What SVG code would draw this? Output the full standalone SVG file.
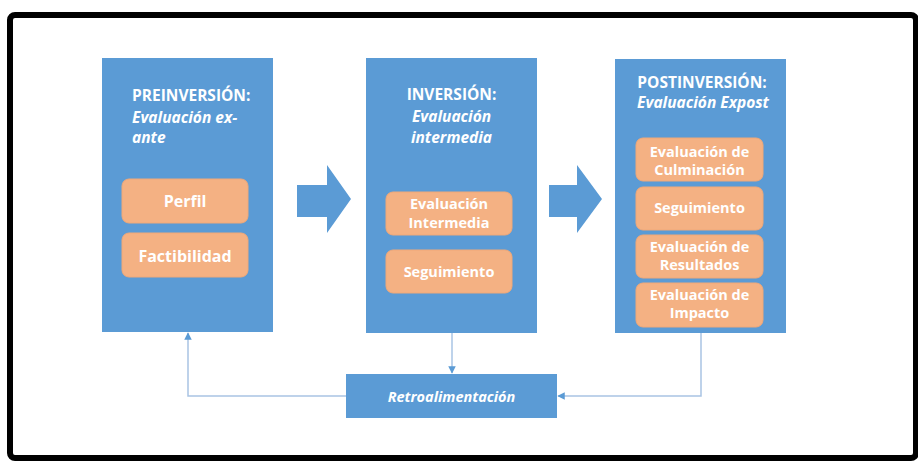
<svg xmlns="http://www.w3.org/2000/svg" width="918" height="461" viewBox="0 0 918 461">
<style>
.stage{fill:#5B9BD5;}
.item{fill:#F4B183;stroke:#F0A878;stroke-width:1;}
.t{font-family:"Open Sans","Noto Sans","Liberation Sans",sans-serif;font-weight:bold;fill:#FFFFFF;}
.h{font-size:15.5px;}
.i{font-style:italic;}
.b{font-size:16px;}
.s{font-size:14.5px;}
.s2{font-size:14.5px;}
.conn{fill:none;stroke:#A9C4E4;stroke-width:1.5;}
</style>
<defs>
<marker id="ah" viewBox="0 0 10 10" refX="9" refY="5" markerWidth="5" markerHeight="5" orient="auto">
<path d="M0,0 L10,5 L0,10 z" fill="#5B9BD5"/>
</marker>
</defs>
<rect x="0" y="0" width="918" height="461" fill="#FFFFFF"/>
<rect x="10" y="15" width="906" height="443" rx="5" fill="none" stroke="#000000" stroke-width="6"/>

<g id="connectors">
<path class="conn" d="M452,333 L452,373" marker-end="url(#ah)"/>
<path class="conn" d="M346,396 L188,396 L188,333" marker-end="url(#ah)"/>
<path class="conn" d="M701,333 L701,396 L558,396" marker-end="url(#ah)"/>
<path d="M297,185 L327,185 L327,165 L351,199 L327,233 L327,217 L297,217 z" fill="#5B9BD5"/>
<path d="M549,185 L577,185 L577,165 L602,199 L577,233 L577,217 L549,217 z" fill="#5B9BD5"/>
</g>

<g id="preinversion">
<rect class="stage" x="102" y="58" width="171" height="274"/>
<text class="t h" x="132" y="101">PREINVERSIÓN:</text>
<text class="t h i" x="132" y="123">Evaluación ex-</text>
<text class="t h i" x="132" y="143">ante</text>
<rect class="item" x="122" y="179" width="126" height="44" rx="7"/>
<text class="t b" x="185" y="207" text-anchor="middle">Perfil</text>
<rect class="item" x="122" y="233" width="126" height="44" rx="7"/>
<text class="t b" x="185" y="262" text-anchor="middle">Factibilidad</text>
</g>

<g id="inversion">
<rect class="stage" x="366" y="58" width="171" height="275"/>
<text class="t h" x="451.5" y="100" text-anchor="middle">INVERSIÓN:</text>
<text class="t h i" x="451.5" y="122" text-anchor="middle">Evaluación</text>
<text class="t h i" x="451.5" y="143" text-anchor="middle">intermedia</text>
<rect class="item" x="386" y="192" width="126" height="43" rx="7"/>
<text class="t s" x="449" y="209" text-anchor="middle">Evaluación</text>
<text class="t s" x="449" y="228" text-anchor="middle">Intermedia</text>
<rect class="item" x="386" y="250" width="126" height="43" rx="7"/>
<text class="t s" x="449" y="277" text-anchor="middle">Seguimiento</text>
</g>

<g id="postinversion">
<rect class="stage" x="615" y="59" width="171" height="274"/>
<text class="t h" x="702" y="88" text-anchor="middle">POSTINVERSIÓN:</text>
<text class="t h i" x="703" y="108" text-anchor="middle">Evaluación Expost</text>
<rect class="item" x="636" y="138" width="127" height="43" rx="7"/>
<text class="t s2" x="699.5" y="157" text-anchor="middle">Evaluación de</text>
<text class="t s2" x="699.5" y="175" text-anchor="middle">Culminación</text>
<rect class="item" x="636" y="187" width="127" height="43" rx="7"/>
<text class="t s2" x="699.5" y="213" text-anchor="middle">Seguimiento</text>
<rect class="item" x="636" y="235" width="127" height="43" rx="7"/>
<text class="t s2" x="699.5" y="252" text-anchor="middle">Evaluación de</text>
<text class="t s2" x="699.5" y="270" text-anchor="middle">Resultados</text>
<rect class="item" x="636" y="283" width="127" height="44" rx="7"/>
<text class="t s2" x="699.5" y="300" text-anchor="middle">Evaluación de</text>
<text class="t s2" x="699.5" y="318" text-anchor="middle">Impacto</text>
</g>

<g id="retroalimentacion">
<rect class="stage" x="346" y="374" width="211" height="44"/>
<text class="t s i" x="451.5" y="402" text-anchor="middle">Retroalimentación</text>
</g>
</svg>
